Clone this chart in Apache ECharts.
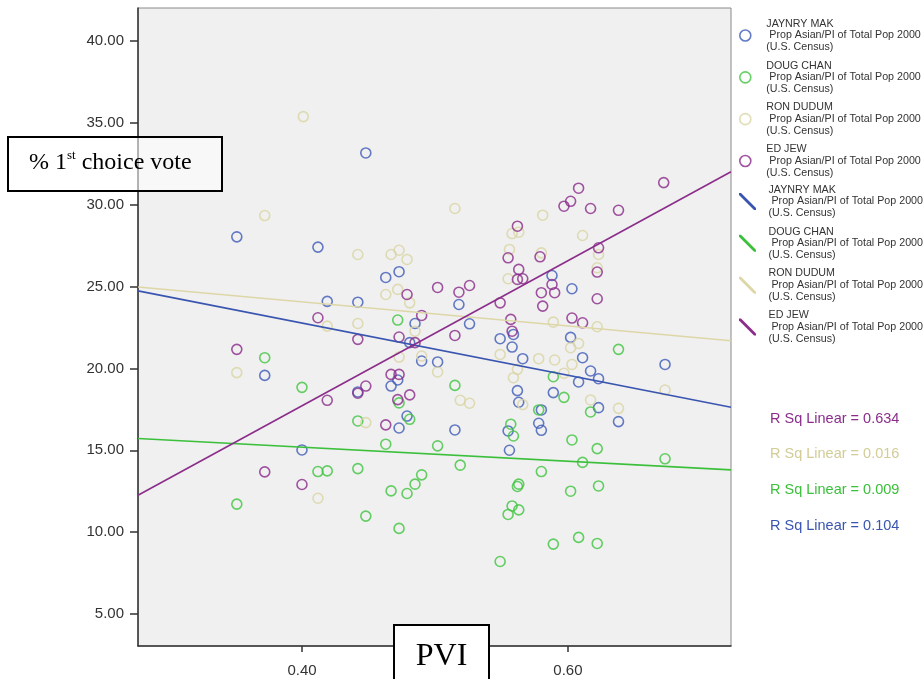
<!DOCTYPE html>
<html>
<head>
<meta charset="utf-8">
<script src="https://cdn.jsdelivr.net/npm/echarts@6/dist/echarts.min.js"></script>
<style>html,body{margin:0;padding:0;background:#fff;}#c{width:924px;height:679px;}</style>
</head>
<body>
<div id="c"></div>
<script>
// ---- data ----
const candidates = ['JAYNRY MAK', 'DOUG CHAN', 'RON DUDUM', 'ED JEW'];
const subtitle = ' Prop Asian/PI of Total Pop 2000';
const subtitle2 = '(U.S. Census)';

const makPoints = [[0.448,33.15],[0.351,28.03],[0.412,27.40],[0.473,25.90],[0.463,25.55],[0.419,24.09],[0.442,24.04],[0.485,22.74],[0.481,21.57],[0.490,20.45],[0.502,20.39],[0.372,19.57],[0.442,18.56],[0.472,19.29],[0.467,18.92],[0.479,17.09],[0.473,16.36],[0.400,15.02],[0.588,25.67],[0.603,24.86],[0.518,23.90],[0.526,22.72],[0.559,22.07],[0.549,21.81],[0.558,21.30],[0.602,21.89],[0.566,20.59],[0.611,20.65],[0.673,20.24],[0.617,19.84],[0.623,19.37],[0.608,19.17],[0.562,18.64],[0.563,17.93],[0.589,18.52],[0.623,17.60],[0.638,16.75],[0.580,17.46],[0.578,16.65],[0.580,16.22],[0.555,16.18],[0.515,16.24],[0.556,15.00]];
const chanPoints = [[0.472,22.95],[0.372,20.65],[0.400,18.84],[0.473,17.89],[0.481,16.89],[0.442,16.79],[0.463,15.37],[0.502,15.27],[0.412,13.70],[0.419,13.74],[0.442,13.88],[0.351,11.71],[0.490,13.50],[0.485,12.93],[0.479,12.36],[0.467,12.52],[0.448,10.98],[0.473,10.23],[0.638,21.16],[0.589,19.49],[0.515,18.96],[0.597,18.23],[0.617,17.34],[0.578,17.46],[0.557,16.59],[0.559,15.87],[0.603,15.63],[0.622,15.10],[0.519,14.09],[0.611,14.26],[0.673,14.48],[0.580,13.70],[0.563,12.93],[0.562,12.79],[0.602,12.50],[0.623,12.82],[0.558,11.60],[0.563,11.36],[0.555,11.08],[0.589,9.27],[0.608,9.68],[0.622,9.31],[0.549,8.21]];
const dudumPoints = [[0.401,35.37],[0.372,29.33],[0.515,29.76],[0.581,29.35],[0.442,26.95],[0.467,26.95],[0.473,27.21],[0.479,26.65],[0.472,24.82],[0.463,24.51],[0.481,24.00],[0.419,22.58],[0.442,22.74],[0.485,22.27],[0.473,20.69],[0.490,20.75],[0.502,19.78],[0.351,19.74],[0.448,16.69],[0.412,12.07],[0.558,28.23],[0.563,28.31],[0.611,28.11],[0.556,27.26],[0.580,27.05],[0.623,26.95],[0.622,26.14],[0.555,25.47],[0.589,22.82],[0.622,22.54],[0.549,20.85],[0.602,21.26],[0.608,21.52],[0.562,19.94],[0.578,20.59],[0.590,20.51],[0.603,20.24],[0.559,19.43],[0.597,19.70],[0.673,18.68],[0.519,18.05],[0.526,17.87],[0.566,17.79],[0.617,18.07],[0.638,17.56]];
const jewPoints = [[0.608,31.00],[0.602,30.20],[0.597,29.90],[0.617,29.76],[0.638,29.65],[0.672,31.34],[0.562,28.68],[0.555,26.75],[0.579,26.81],[0.623,27.36],[0.622,25.88],[0.563,26.04],[0.562,25.43],[0.566,25.47],[0.588,25.12],[0.590,24.62],[0.580,24.62],[0.581,23.80],[0.622,24.25],[0.502,24.94],[0.518,24.65],[0.526,25.06],[0.549,24.00],[0.490,23.23],[0.515,22.01],[0.557,22.99],[0.558,22.27],[0.603,23.07],[0.611,22.78],[0.479,24.51],[0.412,23.09],[0.442,21.77],[0.473,21.91],[0.485,21.57],[0.351,21.16],[0.419,18.05],[0.442,18.48],[0.448,18.92],[0.467,19.63],[0.473,19.63],[0.481,18.38],[0.472,18.09],[0.463,16.55],[0.372,13.68],[0.400,12.91]];

// fit line end values (at the x-axis min and max)
const fitX = [0.2767, 0.7226];
const makFit = [24.73, 17.63];
const chanFit = [15.72, 13.80];
const dudumFit = [24.97, 21.69];
const jewFit = [12.25, 32.00];

const rSquared = ['0.634', '0.016', '0.009', '0.104']; // ED JEW, RON DUDUM, DOUG CHAN, JAYNRY MAK

const xTicks = [0.40, 0.60];
const yTicks = [5, 10, 15, 20, 25, 30, 35, 40];
const xRange = [0.2767, 0.7226];
const yRange = [3.05, 42.0];

// ---- styling ----
const pointColors = ['#3d5ab8', '#3ec43e', '#d9d4a2', '#8a2b8a'];
const lineColors = ['#3a55b0', '#3cc03c', '#ddd7a8', '#8b2e8b'];
const allPoints = [makPoints, chanPoints, dudumPoints, jewPoints];
const allFits = [makFit, chanFit, dudumFit, jewFit];

const fitName = n => n + ' fit';
const series = [];
candidates.forEach((n, i) => {
  series.push({
    type: 'scatter', name: n, data: allPoints[i], symbol: 'circle', symbolSize: 10,
    itemStyle: { color: 'transparent', borderColor: pointColors[i], borderWidth: 1.6 },
    z: 2
  });
});
candidates.forEach((n, i) => {
  series.push({
    type: 'line', name: fitName(n), showSymbol: false, symbol: 'none',
    data: fitX.map((x, k) => [x, allFits[i][k]]),
    color: lineColors[i],
    lineStyle: { color: lineColors[i], width: 1.6 },
    z: 3, silent: true
  });
});

const legendFmt = name => name.replace(/ fit$/, '') + '\n' + subtitle + '\n' + subtitle2;
const legendText = { color: '#333', fontSize: 10.7, lineHeight: 11.7, fontFamily: 'Liberation Sans', padding: [0, 0, 0, 4] };
const diagIcon = 'path://M0,0 L2,0 L17,15 L17,17 L15,17 L0,2 Z';

const rsqColors = [lineColors[3], '#d2cc96', lineColors[1], lineColors[0]];
const rsqY = [419, 454, 490, 526];

const chart = echarts.init(document.getElementById('c'), null, { renderer: 'canvas' });
chart.setOption({
  animation: false,
  backgroundColor: '#fff',
  grid: { left: 138, top: 8, width: 593, height: 638, show: true, backgroundColor: '#f0f0f0', borderColor: '#8a8a8a', borderWidth: 1, containLabel: false, outerBoundsMode: 'none' },
  xAxis: {
    type: 'value', min: xRange[0], max: xRange[1],
    splitLine: { show: false },
    axisLine: { show: true, onZero: false, lineStyle: { color: '#333', width: 1.5 } },
    axisTick: { show: true, length: 6, customValues: xTicks, lineStyle: { color: '#333', width: 1.5 } },
    axisLabel: { customValues: xTicks, formatter: v => v.toFixed(2), fontSize: 15, color: '#333', fontFamily: 'Liberation Sans', margin: 17 }
  },
  yAxis: {
    type: 'value', min: yRange[0], max: yRange[1],
    splitLine: { show: false },
    axisLine: { show: true, onZero: false, lineStyle: { color: '#333', width: 1.5 } },
    axisTick: { show: true, length: 8, customValues: yTicks, lineStyle: { color: '#333', width: 1.5 } },
    axisLabel: { customValues: yTicks, formatter: v => v.toFixed(2), fontSize: 15, color: '#333', fontFamily: 'Liberation Sans', margin: 14 }
  },
  legend: [
    {
      orient: 'vertical', left: 734, top: 13, itemWidth: 24, itemHeight: 11, itemGap: 6.7,
      selectedMode: false, formatter: legendFmt, textStyle: legendText,
      data: candidates.map((n, i) => ({ name: n, icon: 'circle', itemStyle: { color: 'transparent', borderColor: pointColors[i], borderWidth: 1.6 } }))
    },
    {
      orient: 'vertical', left: 734, top: 179, itemWidth: 24, itemHeight: 17, itemGap: 6.7,
      selectedMode: false, formatter: legendFmt, textStyle: legendText,
      data: candidates.map((n, i) => ({ name: fitName(n), icon: diagIcon, itemStyle: { color: lineColors[i], borderWidth: 0 } }))
    }
  ],
  graphic: [
    ...rSquared.map((r, i) => ({
      type: 'text', left: 770, top: rsqY[i] - 8, z: 100,
      style: { text: 'R Sq Linear = ' + r, fill: rsqColors[i], fontSize: 14.5, fontFamily: 'Liberation Sans' }
    })),
    {
      type: 'group', left: 7, top: 136, z: 100, children: [
        { type: 'rect', shape: { x: 0, y: 0, width: 214, height: 54 }, style: { fill: 'rgba(255,255,255,0.55)', stroke: '#000', lineWidth: 2 }, z: 100 },
        { type: 'text', x: 21, y: 26, z: 101, style: {
          text: '{a|% 1}{s|st}{a| choice vote}', verticalAlign: 'middle',
          rich: { a: { fontSize: 24, fontFamily: 'Liberation Serif', fill: '#000', lineHeight: 27 }, s: { fontSize: 13, fontFamily: 'Liberation Serif', fill: '#000', verticalAlign: 'top', lineHeight: 16 } }
        } }
      ]
    },
    {
      type: 'group', left: 393, top: 624, z: 100, children: [
        { type: 'rect', shape: { x: 0, y: 0, width: 95, height: 70 }, style: { fill: '#fff', stroke: '#000', lineWidth: 2 }, z: 100 },
        { type: 'text', x: 47.5, y: 32, z: 101, style: { text: 'PVI', fontSize: 32, fontFamily: 'Liberation Serif', fill: '#000', align: 'center', verticalAlign: 'middle' } }
      ]
    }
  ],
  series: series
});
</script>
</body>
</html>
